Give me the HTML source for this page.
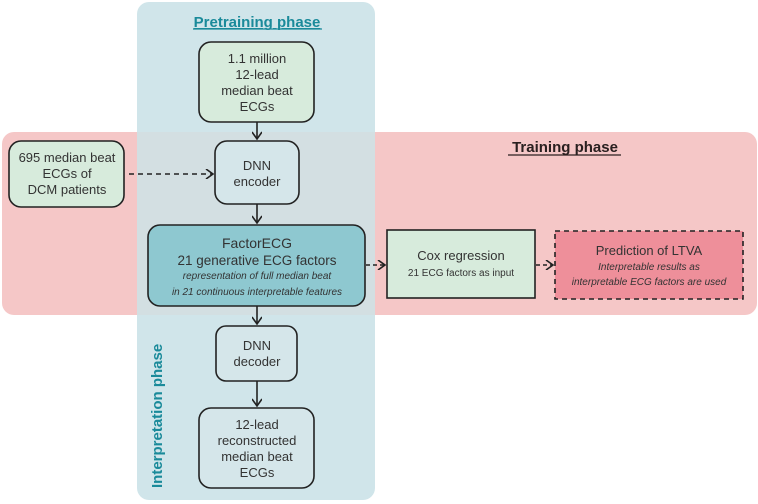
<!DOCTYPE html>
<html><head><meta charset="utf-8"><style>
html,body{margin:0;padding:0;background:#fff;}
svg{display:block;font-family:"Liberation Sans",sans-serif;}
</style></head><body>
<svg width="758" height="504" viewBox="0 0 758 504" xmlns="http://www.w3.org/2000/svg">
<defs>
<marker id="a" markerWidth="10" markerHeight="10" refX="8" refY="5" orient="auto" markerUnits="userSpaceOnUse">
<path d="M1,0 L8,5 L1,10" fill="none" stroke="#222" stroke-width="1.6"/></marker>
</defs>
<rect x="137" y="2" width="238" height="498" rx="12" fill="#d0e5ea"/>
<rect x="2" y="132" width="755" height="183" rx="12" fill="#f5c7c7"/>
<rect x="137" y="132" width="238" height="183" fill="#d3dfe2"/>
<text x="257" y="27" text-anchor="middle" font-weight="bold" font-size="15" fill="#1a8a9a" text-decoration="underline">Pretraining phase</text>
<line x1="193" y1="29" x2="322" y2="29" stroke="#1a8a9a" stroke-width="1.2"/>
<text x="565" y="152" text-anchor="middle" font-weight="bold" font-size="15" fill="#2a2020">Training phase</text>
<line x1="508" y1="155" x2="621" y2="155" stroke="#2a2020" stroke-width="1.2"/>
<text transform="translate(162,488) rotate(-90)" font-weight="bold" font-size="15" fill="#1a8a9a">Interpretation phase</text>
<g stroke="#222" stroke-width="1.6">
<rect x="199" y="42" width="115" height="80" rx="12" fill="#d7ebdc"/>
<rect x="215" y="141" width="84" height="63" rx="12" fill="#d5e6ea"/>
<rect x="148" y="225" width="217" height="81" rx="12" fill="#8ec8d0"/>
<rect x="9" y="141" width="115" height="66" rx="12" fill="#d7ebdc"/>
<rect x="216" y="326" width="81" height="55" rx="10" fill="#d5e6ea"/>
<rect x="199" y="408" width="115" height="80" rx="12" fill="#d5e6ea"/>
<rect x="387" y="230" width="148" height="68" fill="#d7ebdc"/>
<rect x="555" y="231" width="188" height="68" fill="#ee8f9a" stroke-dasharray="5,4"/>
</g>
<g stroke="#222" stroke-width="1.6" fill="none">
<line x1="257" y1="122" x2="257" y2="139" marker-end="url(#a)"/>
<line x1="257" y1="204" x2="257" y2="223" marker-end="url(#a)"/>
<line x1="257" y1="306" x2="257" y2="324" marker-end="url(#a)"/>
<line x1="257" y1="381" x2="257" y2="406" marker-end="url(#a)"/>
<line x1="129" y1="174" x2="213" y2="174" stroke-dasharray="5,4" marker-end="url(#a)"/>
<line x1="366" y1="265" x2="385" y2="265" stroke-dasharray="4,3" marker-end="url(#a)"/>
<line x1="536" y1="265" x2="553" y2="265" stroke-dasharray="4,3" marker-end="url(#a)"/>
</g>
<g font-size="13" fill="#333" text-anchor="middle">
<text x="257" y="63">1.1 million</text><text x="257" y="79">12-lead</text><text x="257" y="95">median beat</text><text x="257" y="111">ECGs</text>
<text x="257" y="170">DNN</text><text x="257" y="186">encoder</text>
<text x="67" y="162">695 median beat</text><text x="67" y="178">ECGs of</text><text x="67" y="194">DCM patients</text>
<text x="257" y="350">DNN</text><text x="257" y="366">decoder</text>
<text x="257" y="429">12-lead</text><text x="257" y="445">reconstructed</text><text x="257" y="461">median beat</text><text x="257" y="477">ECGs</text>
<text x="257" y="248" font-size="14">FactorECG</text>
<text x="257" y="265" font-size="13.5">21 generative ECG factors</text>
<text x="257" y="279" font-size="10" font-style="italic">representation of full median beat</text>
<text x="257" y="295" font-size="10" font-style="italic">in 21 continuous interpretable features</text>
<text x="461" y="260" font-size="13">Cox regression</text>
<text x="461" y="276" font-size="10">21 ECG factors as input</text>
<text x="649" y="255" font-size="13">Prediction of LTVA</text>
<text x="649" y="270" font-size="10" font-style="italic">Interpretable results as</text>
<text x="649" y="285" font-size="10" font-style="italic">interpretable ECG factors are used</text>
</g>
</svg>
</body></html>
